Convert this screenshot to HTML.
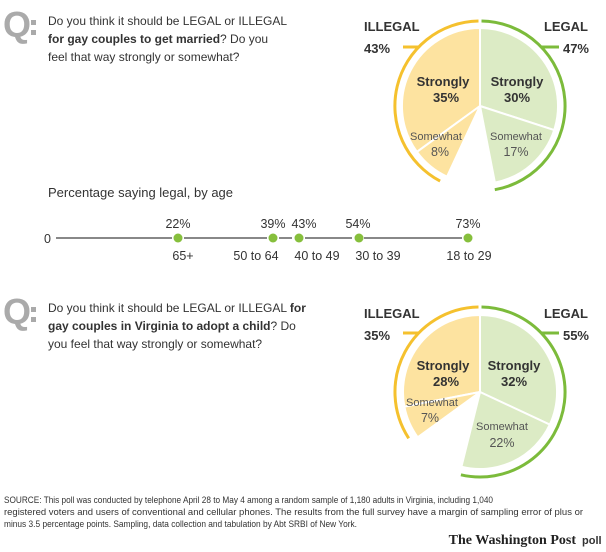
<!DOCTYPE html>
<html><head><style>
body{margin:0;background:#fff;width:606px;height:552px;overflow:hidden;font-family:"Liberation Sans",Arial,sans-serif;color:#333}
svg{position:absolute;left:0;top:0}
</style></head><body>
<svg width="606" height="552" viewBox="0 0 606 552" font-family="Liberation Sans, Arial, sans-serif">
<!-- Q1 -->
<text x="3" y="37" font-size="36" font-weight="bold" fill="#aaa">Q</text>
<rect x="31" y="20" width="5" height="5" fill="#aaa"/><rect x="31" y="30" width="5" height="5" fill="#aaa"/>
<g font-size="12" fill="#333">
<text x="48" y="25">Do you think it should be LEGAL or ILLEGAL</text>
<text x="48" y="43"><tspan font-weight="bold">for gay couples to get married</tspan>? Do you</text>
<text x="48" y="61">feel that way strongly or somewhat?</text>
</g>
<!-- Pie1 -->
<g stroke="#fff" stroke-width="2">
<path d="M480,106 L480,28 A78,78 0 0 1 554.2,130.1 Z" fill="#dcebc5"/>
<path d="M480,106 L554.2,130.1 A78,78 0 0 1 494.9,182.6 Z" fill="#dcebc5"/>
<path d="M480,106 L480,28 A78,78 0 0 0 416.9,151.9 Z" fill="#fde3a0"/>
<path d="M480,106 L416.9,151.9 A78,78 0 0 0 447,176.7 Z" fill="#fde3a0"/>
</g>
<g fill="none" stroke-width="3">
<path d="M481.5,21 A85,85 0 0 1 494.8,189.7" stroke="#7cbb3b"/>
<path d="M541,47 H559" stroke="#7cbb3b"/>
<path d="M478.5,21 A85,85 0 0 0 440.1,181.1" stroke="#f5c12e"/>
<path d="M403,47 H419" stroke="#f5c12e"/>
</g>
<g font-size="13" font-weight="bold" fill="#333">
<text x="364" y="31">ILLEGAL</text><text x="364" y="53">43%</text>
<text x="588" y="31" text-anchor="end">LEGAL</text><text x="589" y="53" text-anchor="end">47%</text>
<text x="443" y="86" text-anchor="middle">Strongly</text><text x="446" y="102" text-anchor="middle">35%</text>
<text x="517" y="86" text-anchor="middle">Strongly</text><text x="517" y="102" text-anchor="middle">30%</text>
</g>
<g font-size="11" fill="#555" text-anchor="middle">
<text x="436" y="140">Somewhat</text><text x="440" y="156" font-size="12.5">8%</text>
<text x="516" y="140">Somewhat</text><text x="516" y="156" font-size="12.5">17%</text>
</g>
<!-- age -->
<text x="48" y="197" font-size="13" fill="#333">Percentage saying legal, by age</text>
<line x1="56" y1="238" x2="172" y2="238" stroke="#888" stroke-width="2"/>
<text x="44" y="243" font-size="12.5" fill="#333">0</text>
<line x1="184" y1="238" x2="267" y2="238" stroke="#888" stroke-width="2"/>
<line x1="279" y1="238" x2="292" y2="238" stroke="#888" stroke-width="2"/>
<line x1="305" y1="238" x2="352" y2="238" stroke="#888" stroke-width="2"/>
<line x1="364" y1="238" x2="462" y2="238" stroke="#888" stroke-width="2"/>
<g fill="#86bf3c"><circle cx="178" cy="238" r="4.5"/><circle cx="273" cy="238" r="4.5"/><circle cx="299" cy="238" r="4.5"/><circle cx="359" cy="238" r="4.5"/><circle cx="468" cy="238" r="4.5"/></g>
<g font-size="12.5" fill="#333" text-anchor="middle">
<text x="178" y="228">22%</text><text x="273" y="228">39%</text><text x="304" y="228">43%</text><text x="358" y="228">54%</text><text x="468" y="228">73%</text>
<text x="183" y="260">65+</text><text x="256" y="260">50 to 64</text><text x="317" y="260">40 to 49</text><text x="378" y="260">30 to 39</text><text x="469" y="260">18 to 29</text>
</g>
<!-- Q2 -->
<text x="3" y="324" font-size="36" font-weight="bold" fill="#aaa">Q</text>
<rect x="31" y="307" width="5" height="5" fill="#aaa"/><rect x="31" y="317" width="5" height="5" fill="#aaa"/>
<g font-size="12" fill="#333">
<text x="48" y="312">Do you think it should be LEGAL or ILLEGAL <tspan font-weight="bold">for</tspan></text>
<text x="48" y="330"><tspan font-weight="bold">gay couples in Virginia to adopt a child</tspan>? Do</text>
<text x="48" y="348">you feel that way strongly or somewhat?</text>
</g>
<!-- Pie2 -->
<g stroke="#fff" stroke-width="2">
<path d="M480,392 L480,315 A77,77 0 0 1 549.8,424.6 Z" fill="#dcebc5"/>
<path d="M480,392 L549.8,424.6 A77,77 0 0 1 461.4,466.7 Z" fill="#dcebc5"/>
<path d="M480,392 L480,315 A77,77 0 0 0 404.4,406.7 Z" fill="#fde3a0"/>
<path d="M480,392 L404.4,406.7 A77,77 0 0 0 417.7,437.3 Z" fill="#fde3a0"/>
</g>
<g fill="none" stroke-width="3">
<path d="M481.5,307 A85,85 0 1 1 460.9,474.8" stroke="#7cbb3b"/>
<path d="M541,333 H559" stroke="#7cbb3b"/>
<path d="M478.5,307 A85,85 0 0 0 408.7,438.3" stroke="#f5c12e"/>
<path d="M403,333 H419" stroke="#f5c12e"/>
</g>
<g font-size="13" font-weight="bold" fill="#333">
<text x="364" y="318">ILLEGAL</text><text x="364" y="340">35%</text>
<text x="588" y="318" text-anchor="end">LEGAL</text><text x="589" y="340" text-anchor="end">55%</text>
<text x="443" y="370" text-anchor="middle">Strongly</text><text x="446" y="386" text-anchor="middle">28%</text>
<text x="514" y="370" text-anchor="middle">Strongly</text><text x="514" y="386" text-anchor="middle">32%</text>
</g>
<g font-size="11" fill="#555" text-anchor="middle">
<text x="432" y="406">Somewhat</text><text x="430" y="422" font-size="12.5">7%</text>
<text x="502" y="430">Somewhat</text><text x="502" y="447" font-size="12.5">22%</text>
</g>
<!-- source -->
<g font-size="9.5" fill="#333">
<text x="4" y="503" textLength="489" lengthAdjust="spacingAndGlyphs">SOURCE: This poll was conducted by telephone April 28 to May 4 among a random sample of 1,180 adults in Virginia, including 1,040</text>
<text x="4" y="515" textLength="579" lengthAdjust="spacingAndGlyphs">registered voters and users of conventional and cellular phones. The results from the full survey have a margin of sampling error of plus or</text>
<text x="4" y="527" textLength="353" lengthAdjust="spacingAndGlyphs">minus 3.5 percentage points. Sampling, data collection and tabulation by Abt SRBI of New York.</text>
</g>
<text x="576" y="544" font-size="14" font-weight="bold" font-family="Liberation Serif, serif" fill="#222" text-anchor="end">The Washington Post</text>
<text x="582" y="544" font-size="11" font-weight="bold" fill="#333">poll</text>
</svg>
</body></html>
